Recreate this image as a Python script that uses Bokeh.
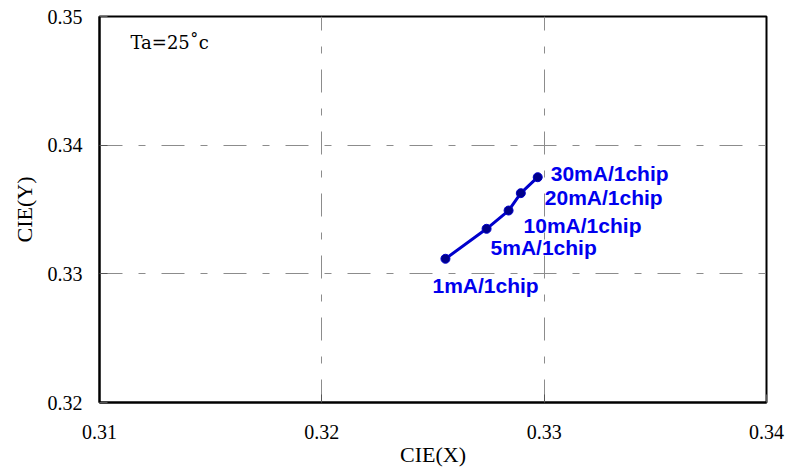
from bokeh.plotting import figure
from bokeh.models import ColumnDataSource, Range1d, FixedTicker, Label
from bokeh.embed import file_html
from bokeh.resources import INLINE
from bokeh.core.properties import value

# ---- data ----
cie_x = [0.32556, 0.32741, 0.32840, 0.32895, 0.32971]
cie_y = [0.33117, 0.33350, 0.33492, 0.33627, 0.33751]
labels = ["1mA/1chip", "5mA/1chip", "10mA/1chip", "20mA/1chip", "30mA/1chip"]
x_ticks = [0.31, 0.32, 0.33, 0.34]
y_ticks = [0.32, 0.33, 0.34, 0.35]
note_text = "Ta=25˚c"

# label offsets (pixels) relative to their point
label_dx = [-13, 4, 15, 24, 13]
label_dy = [27, 19, 15, 4, -4]

src = ColumnDataSource(dict(x=cie_x, y=cie_y, label=labels,
                            dx=label_dx, dy=label_dy))

p = figure(width=794, height=469, output_backend="svg", toolbar_location=None,
           x_range=Range1d(0.31, 0.34), y_range=Range1d(0.32, 0.35),
           min_border_left=99, min_border_right=28, min_border_top=16,
           min_border_bottom=67)
p.background_fill_color = "white"
p.border_fill_color = "white"
p.outline_line_color = "black"
p.outline_line_width = 2

p.xaxis.ticker = FixedTicker(ticks=x_ticks)
p.yaxis.ticker = FixedTicker(ticks=y_ticks)
p.xaxis.major_label_overrides = {t: f"{t:.2f}" for t in x_ticks}
p.yaxis.major_label_overrides = {t: f"{t:.2f}" for t in y_ticks}

for ax in (p.xaxis, p.yaxis):
    ax.axis_line_color = "black"
    ax.axis_line_width = 2
    ax.major_tick_in = 8
    ax.major_tick_out = 0
    ax.major_tick_line_color = "#555555"
    ax.minor_tick_line_color = None
    ax.major_label_text_font = "Liberation Serif"
    ax.major_label_text_font_size = "20px"
    ax.major_label_text_color = "black"
    ax.axis_label_text_font = "Liberation Serif"
    ax.axis_label_text_font_size = "22px"
    ax.axis_label_text_font_style = "normal"
    ax.axis_label_text_color = "black"

p.xaxis.axis_label = "CIE(X)"
p.yaxis.axis_label = "CIE(Y)"
p.xaxis.major_label_standoff = 22
p.xaxis.axis_label_standoff = 0
p.yaxis.major_label_standoff = 17
p.yaxis.axis_label_standoff = 8

p.grid.grid_line_color = "#8c8c8c"
p.grid.grid_line_width = 1
p.grid.grid_line_dash = "23 16 7 16"

p.line("x", "y", source=src, line_color="#0000cc", line_width=3)
p.scatter("x", "y", source=src, size=9, fill_color="#00008b",
          line_color="#0000cc", line_width=1)

p.text("x", "y", text="label", source=src, x_offset="dx", y_offset="dy",
       text_font=value("Liberation Sans"), text_font_style="bold",
       text_font_size="21px", text_color="#0000ee",
       text_align="left", text_baseline="middle")

p.add_layout(Label(x=31, y=360, x_units="screen", y_units="screen",
                   text=note_text, text_font="DejaVu Serif",
                   text_font_size="18px", text_color="black",
                   text_baseline="middle"))

open("out.html", "w").write(file_html(p, INLINE))
